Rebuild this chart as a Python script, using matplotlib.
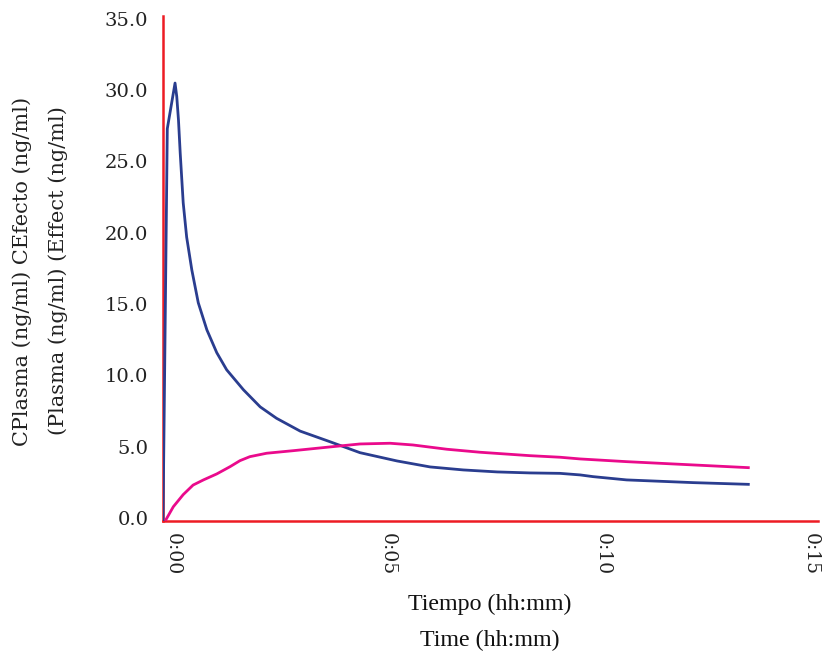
import matplotlib
matplotlib.use("Agg")
import matplotlib.pyplot as plt
from matplotlib.transforms import ScaledTranslation

# --- data (time in minutes) ---
plasma_t = [0, 0.10, 0.28, 0.32, 0.36, 0.40, 0.47, 0.55, 0.67, 0.82, 1.02, 1.25, 1.48,
            1.87, 2.26, 2.64, 3.19, 3.88, 4.58, 5.44, 6.21, 6.98, 7.77, 8.53, 9.23,
            9.70, 10.0, 10.78, 12.33, 13.61]
plasma_c = [0, 27.5, 30.7, 29.75, 28.1, 25.8, 22.3, 19.9, 17.6, 15.3, 13.4, 11.8, 10.6,
            9.2, 8.0, 7.2, 6.3, 5.56, 4.79, 4.21, 3.79, 3.58, 3.44, 3.37, 3.34,
            3.23, 3.11, 2.88, 2.69, 2.57]

effect_t = [0.07, 0.24, 0.47, 0.70, 0.94, 1.25, 1.56, 1.79, 2.02, 2.41, 3.03, 3.81, 4.58,
            5.28, 5.81, 6.60, 7.37, 8.53, 9.23, 9.70, 10.78, 12.33, 13.61]
effect_c = [0.1, 1.0, 1.85, 2.52, 2.88, 3.30, 3.81, 4.23, 4.51, 4.75, 4.93, 5.17, 5.40,
            5.45, 5.33, 5.03, 4.82, 4.58, 4.47, 4.35, 4.16, 3.93, 3.74]

x_ticks = [0, 5, 10, 15]
x_ticklabels = ["0:00", "0:05", "0:10", "0:15"]
y_ticks = [0, 5, 10, 15, 20, 25, 30, 35]
y_ticklabels = ["0.0", "5.0", "10.0", "15.0", "20.0", "25.0", "30.0", "35.0"]

ylabel_text = "CPlasma (ng/ml) CEfecto (ng/ml)\n(Plasma (ng/ml) (Effect (ng/ml)"
xlabel_es = "Tiempo (hh:mm)"
xlabel_en = "Time (hh:mm)"

BLUE = "#2a3d8f"
MAGENTA = "#ea0a8c"
RED = "#ed1c24"

fig = plt.figure(figsize=(8.23, 6.51), dpi=100)
ax = fig.add_axes([163/823, 130/651, (818-163)/823, (521-16)/651])

ax.plot(plasma_t, plasma_c, color=BLUE, lw=2.0, solid_joinstyle="round")
ax.plot(effect_t, effect_c, color=MAGENTA, lw=2.0, solid_joinstyle="round")

ax.set_xlim(0, 15.23)
ax.set_ylim(0, 35.4)

for s in ["top", "right"]:
    ax.spines[s].set_visible(False)
for s in ["left", "bottom"]:
    ax.spines[s].set_color(RED)
    ax.spines[s].set_linewidth(1.8)
    ax.spines[s].set_zorder(1)

ax.set_xticks(x_ticks)
ax.set_xticklabels(x_ticklabels, rotation=-90, family="DejaVu Serif", fontsize=13.5, color="#222222")
ax.set_yticks(y_ticks)
ax.set_yticklabels(y_ticklabels, family="DejaVu Serif", fontsize=14, color="#222222")
ax.tick_params(axis="x", length=0, pad=8.5)
ax.tick_params(axis="y", length=0, pad=10.5)

offsets = [10, 10, 10, 3]
for lab, dx in zip(ax.get_xticklabels(), offsets):
    lab.set_transform(lab.get_transform() + ScaledTranslation(dx/100, 0, fig.dpi_scale_trans))
for lab in ax.get_yticklabels():
    lab.set_transform(lab.get_transform() + ScaledTranslation(0, 3/100, fig.dpi_scale_trans))

fig.text(40/823, 1 - 271/651, ylabel_text, rotation=90, ha="center", va="center",
         multialignment="center", family="DejaVu Serif", fontsize=15,
         color="#222222", linespacing=2.0)
fig.text(490/823, 1 - 604/651, xlabel_es, ha="center", va="center",
         family="Liberation Serif", fontsize=17.3, color="#111111")
fig.text(490/823, 1 - 640/651, xlabel_en, ha="center", va="center",
         family="Liberation Serif", fontsize=17.3, color="#111111")

fig.savefig("out.png", dpi=100, facecolor="white")
